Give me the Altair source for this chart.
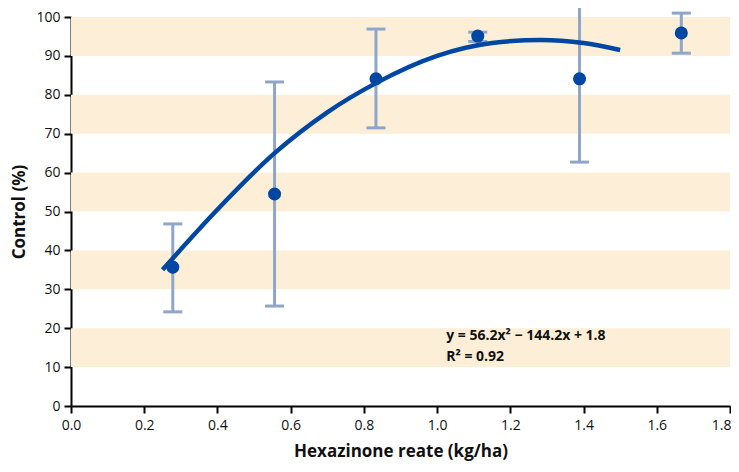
import altair as alt
import pandas as pd

# Observed means and error bars
rate = [0.278, 0.556, 0.833, 1.111, 1.389, 1.667]
control = [35.7, 54.5, 84.1, 95.1, 84.1, 95.9]
err_lo = [24.2, 25.7, 71.5, 93.7, 62.7, 90.7]
err_hi = [46.8, 83.3, 96.9, 96.1, 106.0, 101.0]

# Fitted curve
curve_x = [0.25, 0.40, 0.556, 0.70, 0.833, 1.00, 1.15, 1.284, 1.40, 1.50]
curve_y = [35.0, 50.5, 65.0, 75.5, 83.0, 90.0, 93.3, 94.1, 93.3, 91.5]

# Background bands
band_lo = [10, 30, 50, 70, 90]
band_hi = [20, 40, 60, 80, 100]

ann_text = ["y = 56.2x\u00b2 \u2212 144.2x + 1.8", "R\u00b2 = 0.92"]
ann_x = [1.025, 1.025]
ann_y = [18.0, 12.5]

W, H = 659, 389
FONT = "Open Sans"

pts = pd.DataFrame({"x": rate, "y": control, "lo": err_lo, "hi": err_hi})
cur = pd.DataFrame({"x": curve_x, "y": curve_y})
bands = pd.DataFrame({"lo": band_lo, "hi": band_hi})
ann = pd.DataFrame({"x": ann_x, "y": ann_y, "t": ann_text})

xs = alt.Scale(domain=[0, 1.8], nice=False)
ys = alt.Scale(domain=[0, 100], nice=False)

xaxis = alt.Axis(values=[0, 0.2, 0.4, 0.6, 0.8, 1.0, 1.2, 1.4, 1.6, 1.8], format=".1f",
                 title="Hexazinone reate (kg/ha)", labelFlush=False, labelOverlap=False,
                 labelAlign={"condition": {"test": "datum.value >= 1.79", "value": "right"},
                             "value": "center"},
                 labelOffset={"condition": {"test": "datum.value >= 1.79", "value": 1},
                              "value": 0})
yaxis = alt.Axis(values=[0, 10, 20, 30, 40, 50, 60, 70, 80, 90, 100], format="d",
                 title="Control (%)", labelFlush=False, labelOverlap=False)


def X(field):
    return alt.X(field, scale=xs, axis=xaxis)


def Y(field):
    return alt.Y(field, scale=ys, axis=yaxis)


band_layer = alt.Chart(bands).mark_rect(color="#FDEFD7").encode(
    x=alt.value(0), x2=alt.value(W), y=Y("lo:Q"), y2="hi:Q")

err = alt.Chart(pts).mark_rule(color="#8FA6C9", strokeWidth=3).encode(
    x=X("x:Q"), y=Y("lo:Q"), y2="hi:Q")

cap_lo = alt.Chart(pts).mark_tick(color="#8FA6C9", thickness=3, size=19, orient="horizontal", opacity=1).encode(
    x=X("x:Q"), y=Y("lo:Q"))
cap_hi = alt.Chart(pts).mark_tick(color="#8FA6C9", thickness=3, size=19, orient="horizontal", opacity=1).encode(
    x=X("x:Q"), y=Y("hi:Q"))

line = alt.Chart(cur).mark_line(color="#0047A3", strokeWidth=4.5, interpolate="monotone").encode(
    x=X("x:Q"), y=Y("y:Q"))

dots = alt.Chart(pts).mark_circle(color="#0047A3", size=170, opacity=1).encode(
    x=X("x:Q"), y=Y("y:Q"))

text = alt.Chart(ann).mark_text(align="left", baseline="middle", font=FONT, fontSize=14,
                                fontWeight="bold", color="#111111").encode(
    x=X("x:Q"), y=Y("y:Q"), text="t:N")

chart = alt.layer(band_layer, err, cap_lo, cap_hi, line, dots, text).properties(
    width=W, height=H,
    autosize=alt.AutoSizeParams(type="none"),
    padding={"left": 63, "top": 9, "right": 1, "bottom": 58},
).configure_view(stroke=None).configure_axis(
    grid=False, domainColor="black", domainWidth=2, tickColor="black", tickWidth=2,
    tickSize=7, labelFont=FONT, labelFontSize=14, labelColor="#111111",
    titleFont=FONT, titleFontSize=17, titleFontWeight="bold", titleColor="#111111",
).configure_axisY(labelPadding=4, titlePadding=7).configure_axisX(labelPadding=5, titlePadding=11)

chart.save("out.html", embed_options={"renderer": "svg", "actions": False})
